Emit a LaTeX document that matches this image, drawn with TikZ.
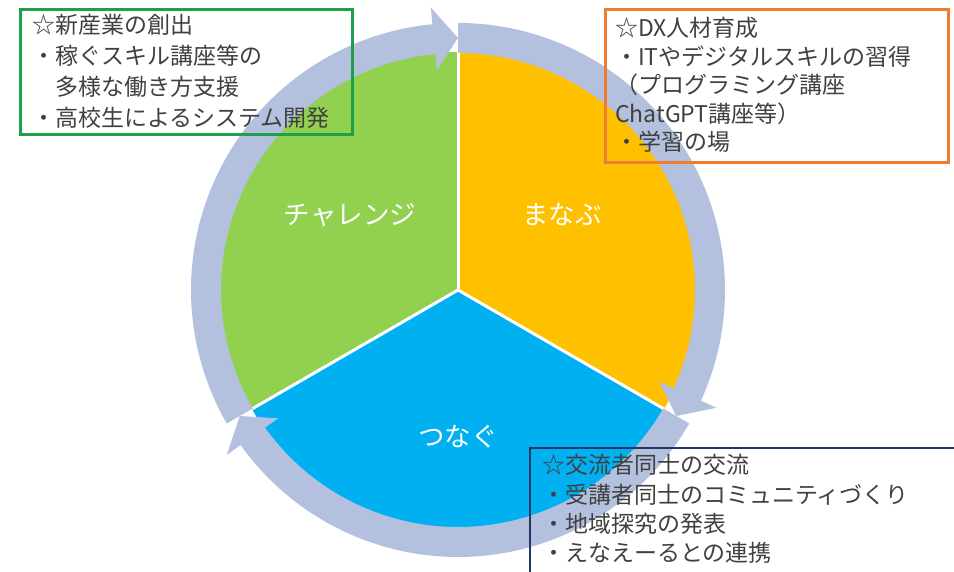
\documentclass[tikz,border=0pt]{standalone}
\usepackage{fontspec}
\setmainfont{Noto Sans CJK JP}
\definecolor{secgreen}{RGB}{146,208,80}
\definecolor{secorange}{RGB}{255,192,0}
\definecolor{secblue}{RGB}{0,176,240}
\definecolor{ringcol}{RGB}{180,193,222}
\definecolor{boxgreen}{RGB}{30,160,75}
\definecolor{boxorange}{RGB}{237,125,49}
\definecolor{boxblue}{RGB}{31,56,100}
\definecolor{txt}{RGB}{64,64,64}
\newcommand\ringarrow[2]{%
  \pgfmathsetmacro\hb{#2+5.5}%
  \fill[ringcol] ([shift={(#1:237)}]C) arc[start angle=#1, end angle=\hb, radius=237]
    -- ([shift={(\hb:221)}]C) -- ([shift={(#2:252)}]C) -- ([shift={(\hb:284)}]C)
    -- ([shift={(\hb:267)}]C) arc[start angle=\hb, end angle=#1, radius=267] -- cycle;}
\begin{document}
\begin{tikzpicture}[x=1pt,y=1pt,
  line/.style={anchor=base west, inner sep=0pt, text=txt, font=\fontsize{23}{28}\selectfont},
  seclabel/.style={text=white, inner sep=0pt, font=\fontsize{26.5}{30}\selectfont},
  sep/.style={white, line width=3pt}]
\useasboundingbox (0,0) rectangle (954,571);
\coordinate (C) at (458,281);
% sectors
\fill[secgreen] (C) -- ([shift={(90:238)}]C) arc[start angle=90, end angle=210, radius=238] -- cycle;
\fill[secorange] (C) -- ([shift={(-30:238)}]C) arc[start angle=-30, end angle=90, radius=238] -- cycle;
\fill[secblue] (C) -- ([shift={(210:238)}]C) arc[start angle=210, end angle=330, radius=238] -- cycle;
\coordinate (s1) at ([shift={(90:238)}]C);
\coordinate (s2) at ([shift={(210:238)}]C);
\coordinate (s3) at ([shift={(330:238)}]C);
\draw[sep] (C) -- (s1);
\draw[sep] (C) -- (s2);
\draw[sep] (C) -- (s3);
% ring arrows
\ringarrow{210}{90}
\ringarrow{90}{-30}
\ringarrow{-30}{-150}
% sector labels
\node[seclabel] (challenge) at (350,356) {チャレンジ};
\node[seclabel] (manabu) at (562,356) {まなぶ};
\node[seclabel] (tsunagu) at (458,134) {つなぐ};
% boxes
\draw[boxgreen, line width=3pt] (20,561) rectangle (352,436);
\draw[boxorange, line width=3pt] (605,561) rectangle (948,408);
\draw[boxblue, line width=2.5pt] (530,123) rectangle (958,-5);
% green box text
\node[line] (g1) at (32,537) {☆新産業の創出};
\node[line] (g2) at (32,506) {・稼ぐスキル講座等の};
\node[line] (g3) at (55,475) {多様な働き方支援};
\node[line] (g4) at (32,444) {・高校生によるシステム開発};
% orange box text
\node[line] (o1) at (615,534) {☆DX人材育成};
\node[line] (o2) at (615,505.5) {・ITやデジタルスキルの習得};
\node[line] (o3) at (615,477) {（プログラミング講座};
\node[line] (o4) at (615,448.5) {ChatGPT講座等）};
\node[line] (o5) at (615,420) {・学習の場};
% blue box text
\node[line] (b1) at (542,97) {☆交流者同士の交流};
\node[line] (b2) at (542,68) {・受講者同士のコミュニティづくり};
\node[line] (b3) at (542,39) {・地域探究の発表};
\node[line] (b4) at (542,10) {・えなえーるとの連携};
\end{tikzpicture}
\end{document}
